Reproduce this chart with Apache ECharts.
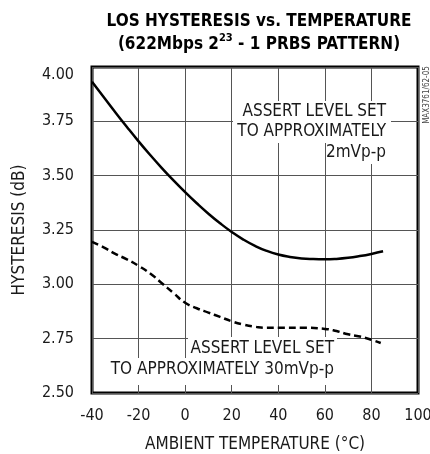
<!DOCTYPE html>
<html>
<head>
<meta charset="utf-8">
<script src="https://cdn.jsdelivr.net/npm/echarts@6/dist/echarts.min.js"></script>
<style>
html,body{margin:0;padding:0;background:#fff;}
#chart{width:430px;height:454px;}
</style>
</head>
<body>
<div id="chart"></div>
<script>
// temperature points (°C)
const temps2mV = [-40,-35,-30,-25,-20,-15,-10,-5,0,5,10,15,20,25,30,35,40,45,50,55,60,65,70,75,80,85];
// hysteresis, assert level 2mVp-p (solid)
const hyst2mV = [3.932,3.862,3.792,3.724,3.658,3.595,3.535,3.478,3.424,3.373,3.325,3.281,3.241,3.206,3.177,3.154,3.137,3.126,3.119,3.116,3.115,3.117,3.122,3.130,3.140,3.152];
const temps30mV = [-40,-35,-30,-25,-20,-15,-10,-5,0,5,10,15,20,25,30,35,40,50,60,65,70,75,80,84];
// hysteresis, assert level 30mVp-p (dashed)
const hyst30mV = [3.195,3.17,3.14,3.115,3.085,3.05,3.005,2.96,2.915,2.89,2.87,2.85,2.83,2.815,2.805,2.80,2.80,2.80,2.795,2.785,2.77,2.76,2.745,2.73];

const xTicks = { min: -40, max: 100, step: 20 };
const yTicks = { min: 2.5, max: 4.0, step: 0.25 };

const font = '"DejaVu Sans Condensed", "Liberation Sans", sans-serif';
const txt = '#1a1a1a';

let chart = echarts.init(document.getElementById('chart'));

function note(text, x, y) {
    return {
        type: 'text', z: 51, x: x, y: y,
        style: { text: text, font: '17px ' + font, fill: txt, align: 'right', verticalAlign: 'middle' }
    };
}

let option = {
    backgroundColor: '#fff',
    animation: false,
    title: {
        text: 'LOS HYSTERESIS vs. TEMPERATURE\n(622Mbps 2{sup|23} - 1 PRBS PATTERN)',
        left: 254,
        top: 5,
        textAlign: 'center',
        textStyle: {
            fontFamily: font,
            fontWeight: 'bold',
            fontSize: 17,
            lineHeight: 23,
            color: '#000',
            rich: {
                sup: {
                    fontFamily: font,
                    fontWeight: 'bold',
                    fontSize: 11,
                    verticalAlign: 'top',
                    lineHeight: 23,
                    padding: [0, 0, 6, 0],
                    color: '#000'
                }
            }
        }
    },
    grid: {
        left: 92,
        right: 12,
        top: 67,
        bottom: 61,
        containLabel: false,
        outerBoundsMode: 'none',
        show: true,
        borderColor: '#000',
        borderWidth: 3
    },
    xAxis: {
        type: 'value',
        min: xTicks.min,
        max: xTicks.max,
        interval: xTicks.step,
        name: 'AMBIENT TEMPERATURE (°C)',
        nameLocation: 'middle',
        nameGap: 43,
        nameTextStyle: { fontFamily: font, fontSize: 17, color: txt },
        axisLine: { show: false },
        axisTick: { show: false },
        axisLabel: { fontFamily: font, fontSize: 16, color: txt, margin: 15 },
        splitLine: { show: true, lineStyle: { color: '#555', width: 1 } }
    },
    yAxis: {
        type: 'value',
        min: yTicks.min,
        max: yTicks.max,
        interval: yTicks.step,
        name: 'HYSTERESIS (dB)',
        nameLocation: 'middle',
        nameGap: 64,
        nameTextStyle: { fontFamily: font, fontSize: 17, color: txt },
        axisLine: { show: false },
        axisTick: { show: false },
        axisLabel: {
            fontFamily: font,
            fontSize: 16,
            color: txt,
            margin: 18,
            formatter: v => v >= 4 ? '{top|' + v.toFixed(2) + '}' : v.toFixed(2),
            rich: { top: { fontFamily: font, fontSize: 16, color: txt, padding: [16, 0, 0, 0] } }
        },
        splitLine: { show: true, lineStyle: { color: '#555', width: 1 } }
    },
    series: [
        {
            type: 'line',
            smooth: true,
            symbol: 'none',
            data: temps2mV.map((t, i) => [t, hyst2mV[i]]),
            lineStyle: { color: '#000', width: 2.5 }
        },
        {
            type: 'line',
            smooth: true,
            symbol: 'none',
            data: temps30mV.map((t, i) => [t, hyst30mV[i]]),
            lineStyle: { color: '#000', width: 2.5, type: [7, 4] }
        }
    ],
    graphic: [
        // top-right note
        { type: 'rect', z: 50, shape: { x: 233, y: 101, width: 158, height: 42 }, style: { fill: '#fff' } },
        { type: 'rect', z: 50, shape: { x: 327, y: 143, width: 64, height: 21 }, style: { fill: '#fff' } },
        note('ASSERT LEVEL SET', 386, 112),
        note('TO APPROXIMATELY', 386, 132),
        note('2mVp-p', 386, 153),
        // bottom note
        { type: 'rect', z: 50, shape: { x: 188, y: 337, width: 149, height: 21 }, style: { fill: '#fff' } },
        { type: 'rect', z: 50, shape: { x: 108, y: 358, width: 229, height: 27 }, style: { fill: '#fff' } },
        note('ASSERT LEVEL SET', 334, 349),
        note('TO APPROXIMATELY 30mVp-p', 334, 370),
        // part number at the right edge
        {
            type: 'text', z: 51, x: 427, y: 95, rotation: Math.PI / 2,
            style: { text: 'MAX3761/62-05', font: '8px ' + font, fill: '#444', align: 'center', verticalAlign: 'middle' }
        }
    ]
};

chart.setOption(option);
</script>
</body>
</html>
